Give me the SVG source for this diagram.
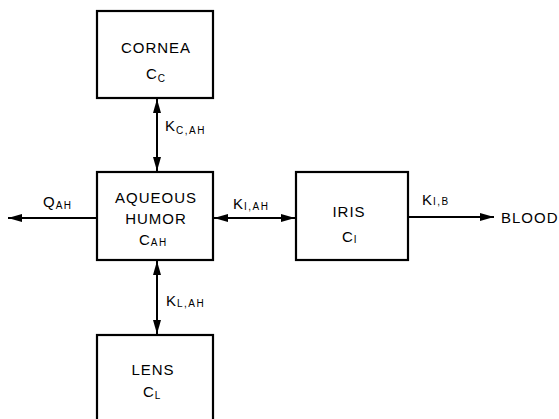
<svg xmlns="http://www.w3.org/2000/svg" width="559" height="419" viewBox="0 0 559 419">
<defs>
<marker id="ah" viewBox="0 0 14 8" refX="14" refY="4" markerWidth="14" markerHeight="8" markerUnits="userSpaceOnUse" orient="auto-start-reverse">
<path d="M0,0 L14,4 L0,8 Z" fill="#000"/>
</marker>
</defs>
<style>
.box{fill:#fff;stroke:#000;stroke-width:2.2}
.t{font-family:"Liberation Sans",Arial,sans-serif;font-size:15px;fill:#000;letter-spacing:1px}
.s{font-family:"Liberation Sans",Arial,sans-serif;font-size:10px;fill:#000;letter-spacing:1.5px}
.c{stroke:#000;stroke-width:2;fill:none}
</style>
<rect width="559" height="419" fill="#fff"/>
<g id="connectors">
<line class="c" x1="157" y1="99" x2="157" y2="171" marker-start="url(#ah)" marker-end="url(#ah)"/>
<line class="c" x1="157" y1="261" x2="157" y2="334" marker-start="url(#ah)" marker-end="url(#ah)"/>
<line class="c" x1="97" y1="218" x2="8" y2="218" marker-end="url(#ah)"/>
<line class="c" x1="214" y1="218" x2="295" y2="218" marker-start="url(#ah)" marker-end="url(#ah)"/>
<line class="c" x1="409" y1="217" x2="494" y2="217" marker-end="url(#ah)"/>
<text class="t" x="165" y="131">K<tspan class="s" dy="3">C,AH</tspan></text>
<text class="t" x="43" y="207">Q<tspan class="s" dy="2">AH</tspan></text>
<text class="t" x="233" y="209">K<tspan class="s" dy="1">I,AH</tspan></text>
<text class="t" x="166" y="306">K<tspan class="s" dy="1">L,AH</tspan></text>
<text class="t" x="422" y="205">K<tspan class="s" dy="0">I,B</tspan></text>
<text class="t" x="501" y="223">BLOOD</text>
</g>
<g id="cornea">
<rect class="box" x="97" y="11" width="116" height="87"/>
<text class="t" x="156" y="53" text-anchor="middle">CORNEA</text>
<text class="t" x="146" y="79">C<tspan class="s" dy="3">C</tspan></text>
</g>
<g id="aqueous">
<rect class="box" x="97" y="172" width="116" height="88"/>
<text class="t" x="156" y="203" text-anchor="middle">AQUEOUS</text>
<text class="t" x="156" y="224" text-anchor="middle">HUMOR</text>
<text class="t" x="139" y="245">C<tspan class="s" dy="1">AH</tspan></text>
</g>
<g id="iris">
<rect class="box" x="296" y="172" width="112" height="88"/>
<text class="t" x="349" y="217" text-anchor="middle">IRIS</text>
<text class="t" x="342" y="242">C<tspan class="s" dy="1">I</tspan></text>
</g>
<g id="lens">
<rect class="box" x="97" y="335" width="116" height="100"/>
<text class="t" x="153" y="375" text-anchor="middle">LENS</text>
<text class="t" x="143" y="397">C<tspan class="s" dy="2">L</tspan></text>
</g>
</svg>
